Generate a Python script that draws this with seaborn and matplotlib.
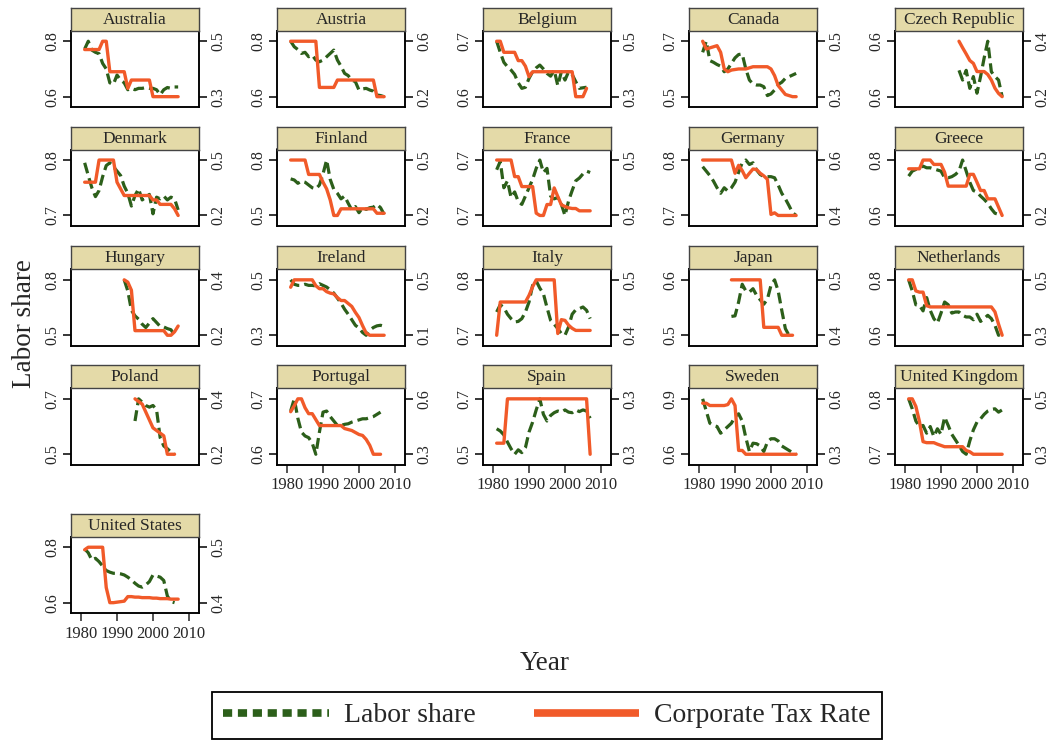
import numpy as np
import pandas as pd
import matplotlib
matplotlib.use("Agg")
import matplotlib.pyplot as plt
import seaborn as sns
from matplotlib.lines import Line2D

# ---------------- data ----------------
COUNTRIES = ["Australia", "Austria", "Belgium", "Canada", "Czech Republic",
             "Denmark", "Finland", "France", "Germany", "Greece",
             "Hungary", "Ireland", "Italy", "Japan", "Netherlands",
             "Poland", "Portugal", "Spain", "Sweden", "United Kingdom",
             "United States"]

AUS_FROM, AUS_TAX_FROM = 1981, 1981
AUS_LABOR = [0.772, 0.800, 0.768, 0.760, 0.755, 0.720, 0.700, 0.650, 0.645, 0.678, 0.660, 0.650, 0.625, 0.630,
             0.625, 0.630, 0.630, 0.633, 0.630, 0.630, 0.625, 0.607, 0.625, 0.633, 0.630, 0.635, 0.635]
AUS_TAX = [0.47, 0.47, 0.47, 0.47, 0.47, 0.50, 0.50, 0.39, 0.39, 0.39, 0.39, 0.39, 0.33, 0.36, 0.36, 0.36, 0.36,
           0.36, 0.36, 0.30, 0.30, 0.30, 0.30, 0.30, 0.30, 0.30, 0.30]
AUS_LS_TICKS, AUS_TAX_TICKS = (0.6, 0.8), (0.3, 0.5)

AUT_FROM, AUT_TAX_FROM = 1981, 1981
AUT_LABOR = [0.800, 0.780, 0.770, 0.756, 0.760, 0.744, 0.750, 0.732, 0.726, 0.732, 0.744, 0.756, 0.768, 0.732,
             0.710, 0.684, 0.676, 0.660, 0.654, 0.624, 0.628, 0.630, 0.624, 0.620, 0.606, 0.604, 0.600]
AUT_TAX = [0.55, 0.55, 0.55, 0.55, 0.55, 0.55, 0.55, 0.55, 0.30, 0.30, 0.30, 0.30, 0.30, 0.34, 0.34, 0.34, 0.34,
           0.34, 0.34, 0.34, 0.34, 0.34, 0.34, 0.34, 0.25, 0.25, 0.25]
AUT_LS_TICKS, AUT_TAX_TICKS = (0.6, 0.8), (0.25, 0.55)

BEL_FROM, BEL_TAX_FROM = 1981, 1981
BEL_LABOR = [0.700, 0.680, 0.662, 0.654, 0.648, 0.640, 0.625, 0.615, 0.617, 0.633, 0.645, 0.652, 0.657, 0.650,
             0.642, 0.637, 0.648, 0.620, 0.645, 0.630, 0.645, 0.640, 0.627, 0.615, 0.616, 0.617]
BEL_TAX = [0.50, 0.50, 0.46, 0.46, 0.46, 0.46, 0.43, 0.43, 0.41, 0.372, 0.39, 0.39, 0.39, 0.39, 0.39, 0.39, 0.39,
           0.39, 0.39, 0.39, 0.39, 0.39, 0.30, 0.30, 0.30, 0.33]
BEL_LS_TICKS, BEL_TAX_TICKS = (0.6, 0.7), (0.3, 0.5)

CAN_FROM, CAN_TAX_FROM = 1981, 1981
CAN_LABOR = [0.660, 0.700, 0.630, 0.624, 0.616, 0.610, 0.590, 0.600, 0.620, 0.640, 0.652, 0.654, 0.600, 0.560,
             0.546, 0.542, 0.542, 0.536, 0.504, 0.510, 0.524, 0.544, 0.552, 0.566, 0.572, 0.578, 0.584]
CAN_TAX = [0.500, 0.472, 0.476, 0.480, 0.484, 0.460, 0.400, 0.390, 0.396, 0.398, 0.400, 0.400, 0.400, 0.404,
           0.408, 0.408, 0.408, 0.408, 0.408, 0.400, 0.376, 0.340, 0.324, 0.308, 0.304, 0.300, 0.300]
CAN_LS_TICKS, CAN_TAX_TICKS = (0.5, 0.7), (0.3, 0.5)

CZE_FROM, CZE_TAX_FROM = 1995, 1995
CZE_LABOR = [0.598, 0.584, 0.598, 0.572, 0.589, 0.565, 0.589, 0.616, 0.640, 0.596, 0.589, 0.584, 0.560]
CZE_TAX = [0.410, 0.390, 0.371, 0.351, 0.342, 0.317, 0.317, 0.317, 0.308, 0.291, 0.266, 0.250, 0.240]
CZE_LS_TICKS, CZE_TAX_TICKS = (0.56, 0.64), (0.24, 0.41)

DNK_FROM, DNK_TAX_FROM = 1981, 1981
DNK_LABOR = [0.795, 0.772, 0.750, 0.734, 0.745, 0.770, 0.790, 0.795, 0.788, 0.780, 0.772, 0.753, 0.740, 0.717,
             0.736, 0.748, 0.728, 0.733, 0.738, 0.703, 0.733, 0.730, 0.735, 0.728, 0.733, 0.730, 0.710]
DNK_TAX = [0.40, 0.40, 0.40, 0.40, 0.50, 0.50, 0.50, 0.50, 0.50, 0.40, 0.37, 0.34, 0.34, 0.34, 0.34, 0.34, 0.34,
           0.34, 0.34, 0.32, 0.32, 0.30, 0.30, 0.30, 0.30, 0.28, 0.25]
DNK_LS_TICKS, DNK_TAX_TICKS = (0.7, 0.8), (0.25, 0.5)

FIN_FROM, FIN_TAX_FROM = 1981, 1981
FIN_LABOR = [0.698, 0.692, 0.674, 0.686, 0.680, 0.665, 0.650, 0.644, 0.665, 0.725, 0.800, 0.695, 0.641, 0.620,
             0.590, 0.605, 0.566, 0.530, 0.548, 0.515, 0.542, 0.533, 0.542, 0.545, 0.560, 0.542, 0.506]
FIN_TAX = [0.50, 0.50, 0.50, 0.50, 0.50, 0.435, 0.435, 0.435, 0.435, 0.40, 0.37, 0.32, 0.25, 0.25, 0.28, 0.28,
           0.28, 0.28, 0.28, 0.28, 0.28, 0.28, 0.28, 0.28, 0.26, 0.26, 0.26]
FIN_LS_TICKS, FIN_TAX_TICKS = (0.5, 0.8), (0.25, 0.5)

FRA_FROM, FRA_TAX_FROM = 1981, 1981
FRA_LABOR = [0.726, 0.738, 0.700, 0.710, 0.686, 0.694, 0.680, 0.676, 0.688, 0.700, 0.712, 0.728, 0.740, 0.722,
             0.728, 0.688, 0.684, 0.686, 0.676, 0.660, 0.681, 0.696, 0.710, 0.714, 0.720, 0.724, 0.722]
FRA_TAX = [0.50, 0.50, 0.50, 0.50, 0.50, 0.45, 0.45, 0.42, 0.42, 0.42, 0.42, 0.34, 0.333, 0.333, 0.366, 0.366,
           0.416, 0.39, 0.365, 0.36, 0.356, 0.354, 0.354, 0.347, 0.347, 0.347, 0.347]
FRA_LS_TICKS, FRA_TAX_TICKS = (0.66, 0.74), (0.333, 0.5)

DEU_FROM, DEU_TAX_FROM = 1981, 1981
DEU_LABOR = [0.788, 0.780, 0.772, 0.762, 0.750, 0.740, 0.750, 0.744, 0.750, 0.760, 0.778, 0.795, 0.800, 0.792,
             0.795, 0.782, 0.774, 0.770, 0.770, 0.770, 0.768, 0.755, 0.740, 0.730, 0.718, 0.705, 0.700]
DEU_TAX = [0.60, 0.60, 0.60, 0.60, 0.60, 0.60, 0.60, 0.60, 0.60, 0.55, 0.58, 0.56, 0.533, 0.55, 0.566, 0.564,
           0.55, 0.54, 0.527, 0.394, 0.40, 0.39, 0.39, 0.39, 0.39, 0.39, 0.39]
DEU_LS_TICKS, DEU_TAX_TICKS = (0.7, 0.8), (0.39, 0.6)

GRC_FROM, GRC_TAX_FROM = 1981, 1981
GRC_LABOR = [0.742, 0.760, 0.766, 0.772, 0.778, 0.772, 0.772, 0.768, 0.764, 0.760, 0.736, 0.736, 0.740, 0.748,
             0.760, 0.800, 0.760, 0.720, 0.690, 0.684, 0.670, 0.658, 0.644, 0.624, 0.608, 0.604, 0.600]
GRC_TAX = [0.452, 0.452, 0.452, 0.452, 0.49, 0.49, 0.49, 0.471, 0.471, 0.471, 0.437, 0.377, 0.377, 0.377, 0.377,
           0.377, 0.377, 0.428, 0.428, 0.394, 0.358, 0.358, 0.322, 0.322, 0.322, 0.286, 0.25]
GRC_LS_TICKS, GRC_TAX_TICKS = (0.6, 0.8), (0.25, 0.49)

HUN_FROM, HUN_TAX_FROM = 1992, 1992
HUN_LABOR = [0.800, 0.740, 0.635, 0.605, 0.587, 0.560, 0.542, 0.566, 0.590, 0.569, 0.548, 0.545, 0.536, 0.530,
             0.500]
HUN_TAX = [0.40, 0.39, 0.355, 0.18, 0.18, 0.18, 0.18, 0.18, 0.18, 0.18, 0.18, 0.18, 0.16, 0.16, 0.175, 0.20]
HUN_LS_TICKS, HUN_TAX_TICKS = (0.5, 0.8), (0.16, 0.4)

IRL_FROM, IRL_TAX_FROM = 1981, 1981
IRL_LABOR = [0.500, 0.484, 0.480, 0.480, 0.484, 0.480, 0.480, 0.478, 0.486, 0.480, 0.474, 0.464, 0.452, 0.434,
             0.416, 0.394, 0.376, 0.356, 0.336, 0.326, 0.310, 0.300, 0.318, 0.328, 0.334, 0.336, 0.332]
IRL_TAX = [0.45, 0.50, 0.50, 0.50, 0.50, 0.50, 0.50, 0.46, 0.44, 0.44, 0.42, 0.41, 0.405, 0.38, 0.36, 0.36, 0.34,
           0.32, 0.28, 0.245, 0.19, 0.14, 0.125, 0.125, 0.125, 0.125, 0.125]
IRL_LS_TICKS, IRL_TAX_TICKS = (0.3, 0.5), (0.125, 0.5)

ITA_FROM, ITA_TAX_FROM = 1981, 1981
ITA_LABOR = [0.742, 0.755, 0.750, 0.738, 0.730, 0.724, 0.725, 0.730, 0.742, 0.760, 0.790, 0.798, 0.785, 0.775,
             0.750, 0.727, 0.720, 0.712, 0.703, 0.700, 0.715, 0.738, 0.746, 0.748, 0.751, 0.745, 0.730]
ITA_TAX = [0.36, 0.456, 0.456, 0.456, 0.456, 0.456, 0.456, 0.456, 0.456, 0.475, 0.50, 0.52, 0.52, 0.52, 0.52,
           0.52, 0.52, 0.365, 0.405, 0.403, 0.389, 0.38, 0.374, 0.374, 0.374, 0.374, 0.374]
ITA_LS_TICKS, ITA_TAX_TICKS = (0.7, 0.8), (0.36, 0.52)

JPN_FROM, JPN_TAX_FROM = 1989, 1989
JPN_LABOR = [0.534, 0.535, 0.560, 0.592, 0.580, 0.578, 0.584, 0.572, 0.564, 0.556, 0.565, 0.590, 0.600, 0.580,
             0.545, 0.512, 0.500]
JPN_TAX = [0.50, 0.50, 0.50, 0.50, 0.50, 0.50, 0.50, 0.50, 0.50, 0.41, 0.41, 0.41, 0.41, 0.41, 0.395, 0.395,
           0.395, 0.395]
JPN_LS_TICKS, JPN_TAX_TICKS = (0.5, 0.6), (0.395, 0.5)

NLD_FROM, NLD_TAX_FROM = 1981, 1981
NLD_LABOR = [0.800, 0.760, 0.710, 0.708, 0.688, 0.736, 0.690, 0.660, 0.644, 0.680, 0.720, 0.710, 0.680, 0.684,
             0.684, 0.672, 0.666, 0.666, 0.656, 0.676, 0.650, 0.660, 0.672, 0.660, 0.636, 0.600, 0.606]
NLD_TAX = [0.48, 0.48, 0.435, 0.43, 0.43, 0.375, 0.37, 0.37, 0.37, 0.37, 0.37, 0.37, 0.37, 0.37, 0.37, 0.37,
           0.37, 0.37, 0.37, 0.37, 0.37, 0.37, 0.37, 0.37, 0.35, 0.30, 0.255]
NLD_LS_TICKS, NLD_TAX_TICKS = (0.6, 0.8), (0.255, 0.48)

POL_FROM, POL_TAX_FROM = 1995, 1995
POL_LABOR = [0.620, 0.700, 0.688, 0.676, 0.670, 0.676, 0.660, 0.560, 0.530, 0.520, 0.508, 0.500]
POL_TAX = [0.40, 0.39, 0.38, 0.35, 0.32, 0.29, 0.28, 0.27, 0.26, 0.19, 0.19, 0.19]
POL_LS_TICKS, POL_TAX_TICKS = (0.5, 0.7), (0.19, 0.4)

PRT_FROM, PRT_TAX_FROM = 1981, 1981
PRT_LABOR = [0.678, 0.700, 0.665, 0.640, 0.633, 0.630, 0.620, 0.600, 0.640, 0.676, 0.678, 0.668, 0.660, 0.652,
             0.652, 0.654, 0.655, 0.658, 0.660, 0.662, 0.664, 0.664, 0.666, 0.668, 0.672, 0.676]
PRT_TAX = [0.49, 0.52, 0.555, 0.555, 0.51, 0.48, 0.48, 0.45, 0.42, 0.42, 0.42, 0.42, 0.42, 0.42, 0.42, 0.405,
           0.40, 0.395, 0.385, 0.375, 0.37, 0.35, 0.32, 0.275, 0.275, 0.275]
PRT_LS_TICKS, PRT_TAX_TICKS = (0.6, 0.7), (0.275, 0.555)

ESP_FROM, ESP_TAX_FROM = 1981, 1981
ESP_LABOR = [0.592, 0.584, 0.570, 0.544, 0.520, 0.500, 0.516, 0.506, 0.524, 0.580, 0.616, 0.660, 0.700, 0.644,
             0.620, 0.640, 0.650, 0.656, 0.652, 0.660, 0.652, 0.650, 0.660, 0.654, 0.660, 0.656, 0.630]
ESP_TAX = [0.33, 0.33, 0.33, 0.35, 0.35, 0.35, 0.35, 0.35, 0.35, 0.35, 0.35, 0.35, 0.35, 0.35, 0.35, 0.35, 0.35,
           0.35, 0.35, 0.35, 0.35, 0.35, 0.35, 0.35, 0.35, 0.35, 0.325]
ESP_LS_TICKS, ESP_TAX_TICKS = (0.5, 0.7), (0.325, 0.35)

SWE_FROM, SWE_TAX_FROM = 1981, 1981
SWE_LABOR = [0.900, 0.834, 0.768, 0.756, 0.750, 0.714, 0.732, 0.750, 0.768, 0.804, 0.819, 0.780, 0.690, 0.615,
             0.660, 0.657, 0.645, 0.615, 0.666, 0.684, 0.684, 0.672, 0.645, 0.633, 0.621, 0.609, 0.600]
SWE_TAX = [0.547, 0.547, 0.535, 0.535, 0.535, 0.535, 0.535, 0.54, 0.57, 0.535, 0.30, 0.30, 0.28, 0.28, 0.28,
           0.28, 0.28, 0.28, 0.28, 0.28, 0.28, 0.28, 0.28, 0.28, 0.28, 0.28, 0.28]
SWE_LS_TICKS, SWE_TAX_TICKS = (0.6, 0.9), (0.28, 0.57)

GBR_FROM, GBR_TAX_FROM = 1981, 1981
GBR_LABOR = [0.800, 0.782, 0.760, 0.750, 0.752, 0.738, 0.750, 0.732, 0.746, 0.736, 0.767, 0.752, 0.736, 0.726,
             0.716, 0.705, 0.700, 0.724, 0.744, 0.758, 0.764, 0.772, 0.778, 0.781, 0.782, 0.776, 0.780]
GBR_TAX = [0.52, 0.52, 0.49, 0.43, 0.35, 0.346, 0.346, 0.346, 0.34, 0.335, 0.33, 0.33, 0.33, 0.33, 0.33, 0.33,
           0.315, 0.31, 0.30, 0.30, 0.30, 0.30, 0.30, 0.30, 0.30, 0.30, 0.30]
GBR_LS_TICKS, GBR_TAX_TICKS = (0.7, 0.8), (0.3, 0.52)

USA_FROM, USA_TAX_FROM = 1981, 1981
USA_LABOR = [0.794, 0.780, 0.754, 0.760, 0.748, 0.732, 0.716, 0.710, 0.706, 0.706, 0.704, 0.700, 0.692, 0.682,
             0.670, 0.660, 0.656, 0.664, 0.676, 0.700, 0.696, 0.692, 0.680, 0.624, 0.604, 0.600]
USA_TAX = [0.495, 0.50, 0.50, 0.50, 0.50, 0.50, 0.42, 0.39, 0.39, 0.391, 0.392, 0.393, 0.402, 0.402, 0.401,
           0.401, 0.400, 0.400, 0.400, 0.399, 0.399, 0.398, 0.398, 0.398, 0.397, 0.397, 0.397]
USA_LS_TICKS, USA_TAX_TICKS = (0.6, 0.8), (0.39, 0.5)

X_TICKS = [1980, 1990, 2000, 2010]
LEGEND_LABELS = ["Labor share", "Corporate Tax Rate"]

PANELS = [
    (AUS_FROM, AUS_LABOR, AUS_TAX_FROM, AUS_TAX, AUS_LS_TICKS, AUS_TAX_TICKS),
    (AUT_FROM, AUT_LABOR, AUT_TAX_FROM, AUT_TAX, AUT_LS_TICKS, AUT_TAX_TICKS),
    (BEL_FROM, BEL_LABOR, BEL_TAX_FROM, BEL_TAX, BEL_LS_TICKS, BEL_TAX_TICKS),
    (CAN_FROM, CAN_LABOR, CAN_TAX_FROM, CAN_TAX, CAN_LS_TICKS, CAN_TAX_TICKS),
    (CZE_FROM, CZE_LABOR, CZE_TAX_FROM, CZE_TAX, CZE_LS_TICKS, CZE_TAX_TICKS),
    (DNK_FROM, DNK_LABOR, DNK_TAX_FROM, DNK_TAX, DNK_LS_TICKS, DNK_TAX_TICKS),
    (FIN_FROM, FIN_LABOR, FIN_TAX_FROM, FIN_TAX, FIN_LS_TICKS, FIN_TAX_TICKS),
    (FRA_FROM, FRA_LABOR, FRA_TAX_FROM, FRA_TAX, FRA_LS_TICKS, FRA_TAX_TICKS),
    (DEU_FROM, DEU_LABOR, DEU_TAX_FROM, DEU_TAX, DEU_LS_TICKS, DEU_TAX_TICKS),
    (GRC_FROM, GRC_LABOR, GRC_TAX_FROM, GRC_TAX, GRC_LS_TICKS, GRC_TAX_TICKS),
    (HUN_FROM, HUN_LABOR, HUN_TAX_FROM, HUN_TAX, HUN_LS_TICKS, HUN_TAX_TICKS),
    (IRL_FROM, IRL_LABOR, IRL_TAX_FROM, IRL_TAX, IRL_LS_TICKS, IRL_TAX_TICKS),
    (ITA_FROM, ITA_LABOR, ITA_TAX_FROM, ITA_TAX, ITA_LS_TICKS, ITA_TAX_TICKS),
    (JPN_FROM, JPN_LABOR, JPN_TAX_FROM, JPN_TAX, JPN_LS_TICKS, JPN_TAX_TICKS),
    (NLD_FROM, NLD_LABOR, NLD_TAX_FROM, NLD_TAX, NLD_LS_TICKS, NLD_TAX_TICKS),
    (POL_FROM, POL_LABOR, POL_TAX_FROM, POL_TAX, POL_LS_TICKS, POL_TAX_TICKS),
    (PRT_FROM, PRT_LABOR, PRT_TAX_FROM, PRT_TAX, PRT_LS_TICKS, PRT_TAX_TICKS),
    (ESP_FROM, ESP_LABOR, ESP_TAX_FROM, ESP_TAX, ESP_LS_TICKS, ESP_TAX_TICKS),
    (SWE_FROM, SWE_LABOR, SWE_TAX_FROM, SWE_TAX, SWE_LS_TICKS, SWE_TAX_TICKS),
    (GBR_FROM, GBR_LABOR, GBR_TAX_FROM, GBR_TAX, GBR_LS_TICKS, GBR_TAX_TICKS),
    (USA_FROM, USA_LABOR, USA_TAX_FROM, USA_TAX, USA_LS_TICKS, USA_TAX_TICKS),
]

# ---------------- styling ----------------
GREEN = "#2c5f1a"
ORANGE = "#f15a29"
STRIP = "#e4daa8"
DASH = (0, (3.4, 1.6))

sns.set_style("ticks")
plt.rcParams["font.family"] = ["Liberation Serif", "DejaVu Serif"]
plt.rcParams["axes.linewidth"] = 1.1

W, H = 1054, 743
fig = plt.figure(figsize=(W / 100, H / 100), dpi=100)


def add_px(left, top, w, h):
    return fig.add_axes([left / W, 1 - (top + h) / H, w / W, h / H])


COL_LEFT = [71, 277, 483, 689, 895]
ROW_TOP = [30.7, 149.5, 269.3, 388.3, 536.7]
BOX_W, BOX_H, STRIP_H = 128, 76.5, 23
PAD = 0.19
n = len(COUNTRIES)

for i, (name, panel) in enumerate(zip(COUNTRIES, PANELS)):
    ly0, lv, ty0, tv, lt, tt = panel
    r, c = divmod(i, 5)
    ax = add_px(COL_LEFT[c], ROW_TOP[r], BOX_W, BOX_H)

    df_l = pd.DataFrame({"Year": np.arange(ly0, ly0 + len(lv)), "Labor share": lv})
    sns.lineplot(data=df_l, x="Year", y="Labor share", ax=ax, color=GREEN, lw=2.3,
                 linestyle=DASH, errorbar=None)
    ax2 = ax.twinx()
    df_t = pd.DataFrame({"Year": np.arange(ty0, ty0 + len(tv)), "Tax": tv})
    sns.lineplot(data=df_t, x="Year", y="Tax", ax=ax2, color=ORANGE, lw=2.4,
                 errorbar=None)
    for ln in ax.lines:
        ln.set_dash_capstyle("butt")

    ax.set_xlim(1977.2, 2012.8)
    for a, (lo, hi) in ((ax, lt), (ax2, tt)):
        rng = hi - lo
        a.set_ylim(lo - PAD * rng, hi + PAD * rng)
        a.set_yticks([lo, hi])
        a.set_yticklabels([f"{lo:.1f}", f"{hi:.1f}"], rotation=90, va="center")
        a.set_xlabel("")
        a.set_ylabel("")
        a.tick_params(axis="y", length=6, width=1.1, labelsize=11.5, pad=2, color="black")
        for sp in a.spines.values():
            sp.set_visible(True)
            sp.set_color("black")
            sp.set_linewidth(1.1)

    bottom = i + 5 >= n
    if bottom:
        ax.set_xticks(X_TICKS)
        ax.set_xticklabels([str(x) for x in X_TICKS])
        ax.tick_params(axis="x", length=6, width=1.1, labelsize=12, pad=3)
    else:
        ax.set_xticks([])

    sax = add_px(COL_LEFT[c], ROW_TOP[r] - STRIP_H, BOX_W, STRIP_H)
    sax.set_facecolor(STRIP)
    sax.set_xticks([])
    sax.set_yticks([])
    for sp in sax.spines.values():
        sp.set_visible(True)
        sp.set_color("#444444")
        sp.set_linewidth(1.0)
    sax.text(0.5, 0.47, name, ha="center", va="center", fontsize=12.5, transform=sax.transAxes)

fig.text(25 / W, 1 - 324 / H, "Labor share", rotation=90, ha="center", va="center", fontsize=19.5)
fig.text(545 / W, 1 - 663 / H, "Year", ha="center", va="center", fontsize=19.5)

handles = [Line2D([], [], color=GREEN, lw=5.5, linestyle=(0, (1.2, 0.75)), dash_capstyle="butt"),
           Line2D([], [], color=ORANGE, lw=5.5, solid_capstyle="butt")]
leg = fig.legend(handles, LEGEND_LABELS, loc="center",
                 bbox_to_anchor=(212 / W, 1 - 741 / H, 670 / W, 51 / H),
                 mode="expand", ncol=2, frameon=True, fancybox=False, edgecolor="black",
                 fontsize=20, handlelength=3.8, handletextpad=0.55, borderpad=0.4,
                 columnspacing=1.0, borderaxespad=0)
leg.get_frame().set_linewidth(1.3)
leg.get_frame().set_alpha(1)

fig.savefig("out.png", dpi=100)
